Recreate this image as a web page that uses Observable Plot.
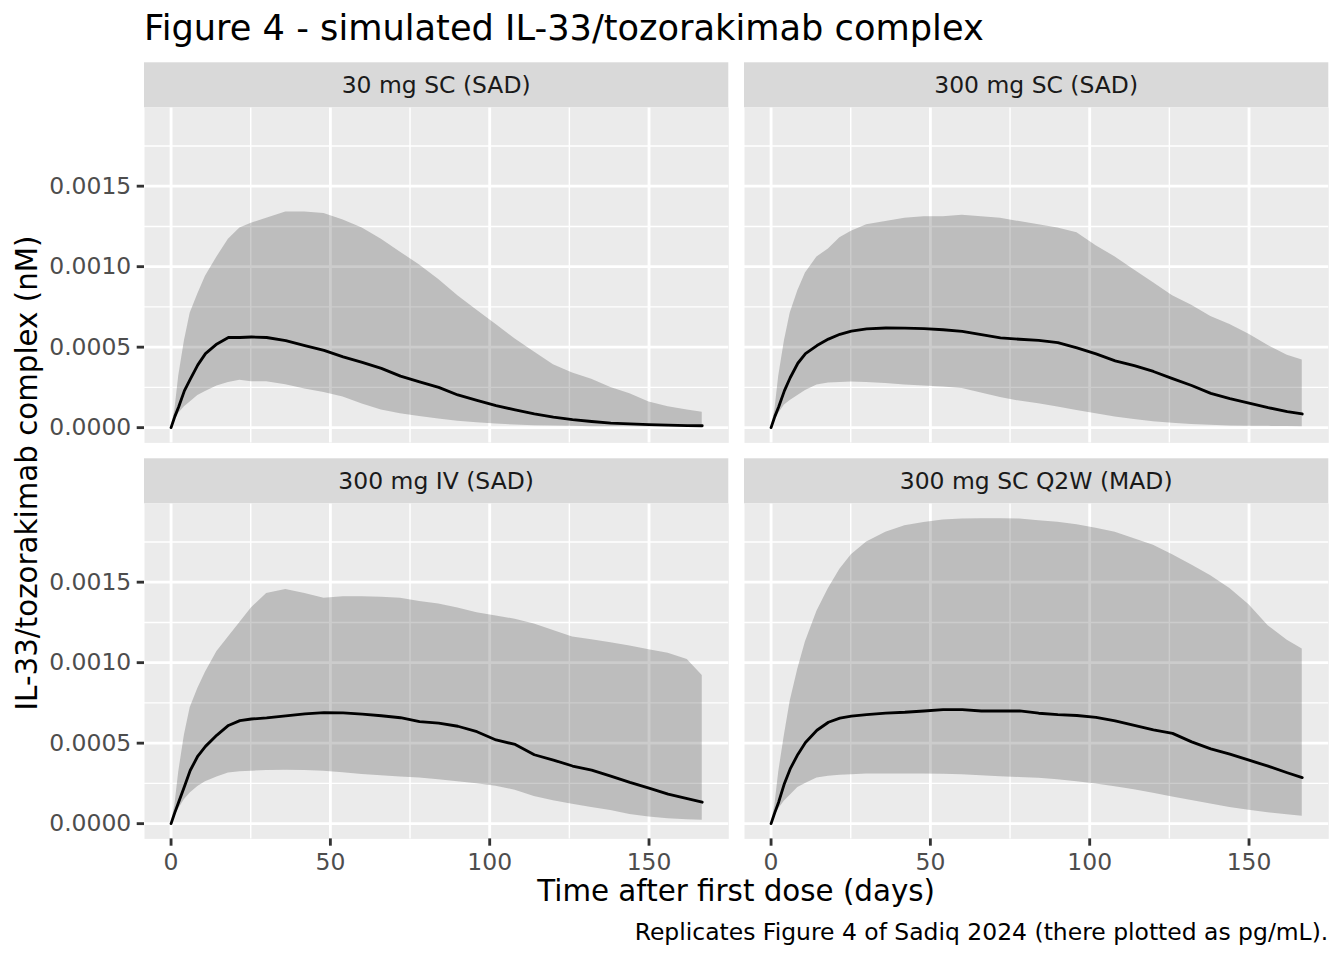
<!DOCTYPE html>
<html>
<head>
<meta charset="utf-8">
<script src="https://cdn.jsdelivr.net/npm/d3@7"></script>
<script src="https://cdn.jsdelivr.net/npm/@observablehq/plot@0.6"></script>
<style>
  html, body { margin: 0; padding: 0; background: white; }
  #root { position: relative; width: 1344px; height: 960px; overflow: hidden; font-family: "DejaVu Sans", sans-serif; }
  #root svg { position: absolute; max-width: none; overflow: visible; }
</style>
</head>
<body>
<div id="root"></div>
<script>
// ---------------- data ----------------
const panels = ["30 mg SC (SAD)", "300 mg SC (SAD)", "300 mg IV (SAD)", "300 mg SC Q2W (MAD)"];

const times = [0, 1.2, 2.4, 4.2, 6, 8.4, 10.8, 14.4, 18, 21.6, 25.2, 30, 36, 42, 48, 54, 60, 66, 72, 78,
               84, 90, 96, 102, 108, 114, 120, 126, 132, 138, 144, 150, 156, 162, 166.7];

// 30 mg SC (SAD)
const sc30Lower  = [0, 0.00005, 0.000089, 0.00013, 0.00016, 0.0002, 0.000225, 0.000258, 0.00028, 0.000295, 0.000285, 0.000285, 0.000267, 0.00024, 0.000218, 0.00019, 0.000147, 0.00011, 0.000087, 0.00007,
                    0.000053, 0.00004, 0.00003, 0.000022, 0.000016, 0.000012, 0.00001, 0.000008, 0.000006, 0.000005, 0.000005, 0.000004, 0.000004, 0.000004, 0.000004];
const sc30Median = [0, 0.00007, 0.00013, 0.00023, 0.0003, 0.00039, 0.00046, 0.00052, 0.00056, 0.00056, 0.000563, 0.00056, 0.00054, 0.00051, 0.00048, 0.00044, 0.000405, 0.000368, 0.00032, 0.000285,
                    0.00025, 0.000203, 0.00017, 0.000137, 0.00011, 0.000085, 0.000065, 0.00005, 0.000038, 0.000028, 0.000023, 0.000019, 0.000016, 0.000013, 0.000012];
const sc30Upper  = [0, 0.00011, 0.00032, 0.00054, 0.00071, 0.00083, 0.00094, 0.00106, 0.00117, 0.00124, 0.00127, 0.0013, 0.00134, 0.00134, 0.00133, 0.00129, 0.00124, 0.00117, 0.00109, 0.00101,
                    0.00092, 0.00082, 0.00073, 0.00064, 0.00055, 0.00047, 0.00039, 0.00034, 0.0003, 0.00025, 0.00021, 0.00016, 0.00013, 0.00011, 0.000095];

// 300 mg SC (SAD)
const sc300Lower  = [0, 0.00005, 0.000089, 0.00014, 0.000168, 0.0002, 0.00023, 0.000265, 0.000277, 0.00028, 0.000283, 0.000281, 0.000275, 0.000265, 0.000258, 0.000253, 0.000243, 0.000215, 0.000187, 0.000165,
                     0.000148, 0.000128, 0.000107, 0.000086, 0.000066, 0.00005, 0.000036, 0.000027, 0.00002, 0.000015, 0.000011, 0.000009, 0.000008, 0.000007, 0.000006];
const sc300Median = [0, 0.00007, 0.00013, 0.00023, 0.00031, 0.0004, 0.00046, 0.00051, 0.00055, 0.00058, 0.0006, 0.000614, 0.000619, 0.000618, 0.000615, 0.000608, 0.000598, 0.000578, 0.000558, 0.000549,
                     0.000542, 0.000528, 0.000495, 0.000458, 0.000415, 0.000385, 0.000349, 0.000305, 0.000262, 0.000213, 0.00018, 0.000152, 0.000124, 0.0001, 0.000085];
const sc300Upper  = [0, 0.00011, 0.00032, 0.00054, 0.00071, 0.00085, 0.00096, 0.00106, 0.00111, 0.00118, 0.00122, 0.00126, 0.00128, 0.0013, 0.00131, 0.00131, 0.00132, 0.00131, 0.0013, 0.00128,
                     0.00126, 0.00124, 0.00121, 0.00113, 0.00106, 0.00098, 0.0009, 0.00082, 0.00076, 0.00069, 0.00064, 0.00058, 0.00051, 0.00045, 0.00042];

// 300 mg IV (SAD)
const iv300Lower  = [0, 0.00005, 0.000093, 0.00015, 0.00019, 0.00023, 0.00026, 0.00029, 0.000315, 0.000322, 0.000326, 0.00033, 0.000332, 0.00033, 0.000325, 0.000316, 0.000305, 0.000297, 0.00029, 0.000283,
                     0.000272, 0.00026, 0.000248, 0.000232, 0.000208, 0.000168, 0.000142, 0.00012, 0.0001, 0.000082, 0.000057, 0.000042, 0.000031, 0.000024, 0.000021];
const iv300Median = [0, 0.00007, 0.000135, 0.00023, 0.00033, 0.00042, 0.00048, 0.00055, 0.00061, 0.00064, 0.00065, 0.000657, 0.00067, 0.000682, 0.00069, 0.000688, 0.00068, 0.00067, 0.000658, 0.000634,
                     0.000624, 0.000605, 0.000571, 0.00052, 0.000492, 0.000428, 0.000395, 0.000358, 0.000332, 0.000295, 0.000256, 0.00022, 0.000183, 0.000156, 0.000133];
const iv300Upper  = [0, 0.000114, 0.00032, 0.00055, 0.00072, 0.00084, 0.00094, 0.00107, 0.00116, 0.00125, 0.00134, 0.00143, 0.001455, 0.00143, 0.0014, 0.00141, 0.00141, 0.001406, 0.0014, 0.00138,
                     0.001365, 0.00134, 0.00131, 0.00129, 0.00127, 0.00124, 0.0012, 0.00116, 0.001143, 0.001124, 0.001103, 0.00108, 0.001058, 0.00102, 0.00092];

// 300 mg SC Q2W (MAD)
const madLower  = [0, 0.00005, 0.000093, 0.00014, 0.000176, 0.000225, 0.00025, 0.000284, 0.000295, 0.000301, 0.000304, 0.000308, 0.000309, 0.000309, 0.000309, 0.000307, 0.000303, 0.000298, 0.000292, 0.000287,
                   0.000282, 0.000272, 0.00026, 0.000246, 0.000229, 0.00021, 0.000189, 0.000166, 0.000144, 0.000122, 0.000101, 0.000083, 0.000068, 0.000055, 0.000046];
const madMedian = [0, 0.00007, 0.000135, 0.00025, 0.00034, 0.00043, 0.000504, 0.00058, 0.00063, 0.000655, 0.000668, 0.000677, 0.000687, 0.000692, 0.0007, 0.000708, 0.000708, 0.0007, 0.0007, 0.0007,
                   0.000686, 0.000677, 0.000672, 0.00066, 0.000638, 0.000611, 0.000583, 0.000561, 0.000508, 0.000465, 0.000432, 0.000394, 0.000357, 0.000316, 0.000286];
const madUpper  = [0, 0.000114, 0.00032, 0.00055, 0.00076, 0.00096, 0.00113, 0.00132, 0.00146, 0.00158, 0.00167, 0.00175, 0.00181, 0.00185, 0.00187, 0.001886, 0.001892, 0.001894, 0.001894, 0.001892,
                   0.001882, 0.001872, 0.001857, 0.001835, 0.00181, 0.00177, 0.00173, 0.00167, 0.001607, 0.00154, 0.00146, 0.00136, 0.00123, 0.00114, 0.001085];

const xTicks = [0, 50, 100, 150];
const xMinor = [25, 75, 125];
const yTicks = [0, 0.0005, 0.001, 0.0015];
const yMinor = [0.00025, 0.00075, 0.00125, 0.00175];

const titleText = "Figure 4 - simulated IL-33/tozorakimab complex";
const xTitle = "Time after first dose (days)";
const yTitle = "IL-33/tozorakimab complex (nM)";
const captionText = "Replicates Figure 4 of Sadiq 2024 (there plotted as pg/mL).";

// ---------------- build ----------------
const series = [
  {lower: sc30Lower, median: sc30Median, upper: sc30Upper},
  {lower: sc300Lower, median: sc300Median, upper: sc300Upper},
  {lower: iv300Lower, median: iv300Median, upper: iv300Upper},
  {lower: madLower, median: madMedian, upper: madUpper}
];

// ggplot-like 5% expansion, shared (fixed) scales
const xMax = d3.max(times), xMin = d3.min(times);
const xPad = 0.05 * (xMax - xMin);
const xDomain = [xMin - xPad, xMax + xPad];
const yMaxAll = d3.max(series.flatMap(s => s.upper));
const yMinAll = 0;
const yPad = 0.05 * (yMaxAll - yMinAll);
const yDomain = [yMinAll - yPad, yMaxAll + yPad];

const PT = 192 / 72;
const fsTick = 8.8 * PT, fsAxis = 11 * PT, fsTitle = 13.2 * PT;
const lwMajor = 2.84, lwMinor = 1.42;

const colLeft = [144, 744];
const rowTop = [107.3, 503.3];
const stripTop = [62.3, 458.3];
const PW = 584.3, PH = 335.4;

const root = document.getElementById("root");

series.forEach((s, i) => {
  const col = i % 2, row = Math.floor(i / 2);
  const showY = col === 0, showX = row === 1;
  const data = times.map((t, j) => ({t, lo: s.lower[j], med: s.median[j], hi: s.upper[j]}));
  const ml = showY ? 144 : 0;
  const mb = showX ? 60 : 0;
  const marks = [
    Plot.frame({fill: "#EBEBEB", stroke: "none"}),
    Plot.ruleX(xMinor, {stroke: "white", strokeWidth: lwMinor}),
    Plot.ruleY(yMinor, {stroke: "white", strokeWidth: lwMinor}),
    Plot.ruleX(xTicks, {stroke: "white", strokeWidth: lwMajor}),
    Plot.ruleY(yTicks, {stroke: "white", strokeWidth: lwMajor}),
    Plot.areaY(data, {x: "t", y1: "lo", y2: "hi", fill: "#333333", fillOpacity: 0.25}),
    Plot.line(data, {x: "t", y: "med", stroke: "black", strokeWidth: lwMajor})
  ];
  if (showY) marks.push(Plot.axisY({ticks: yTicks, tickFormat: d3.format(".4f"), tickSize: 7.3, tickPadding: 5.9,
    stroke: "#333333", strokeWidth: lwMajor, fill: "#4D4D4D", fontSize: fsTick, label: null}));
  if (showX) marks.push(Plot.axisX({ticks: xTicks, tickFormat: d3.format("d"), tickSize: 7.3, tickPadding: 7,
    stroke: "#333333", strokeWidth: lwMajor, fill: "#4D4D4D", fontSize: fsTick, label: null}));
  const svg = Plot.plot({
    width: ml + PW,
    height: PH + mb,
    marginLeft: ml, marginRight: 0, marginTop: 0, marginBottom: mb,
    x: {domain: xDomain, ...(showX ? {} : {axis: null})},
    y: {domain: yDomain, ...(showY ? {} : {axis: null})},
    style: {background: "transparent", fontFamily: "DejaVu Sans", fontSize: fsTick + "px", overflow: "visible"},
    marks
  });
  svg.style.left = (colLeft[col] - ml) + "px";
  svg.style.top = rowTop[row] + "px";
  root.appendChild(svg);
});

// overlay: strips, titles, caption
const ns = "http://www.w3.org/2000/svg";
const ov = document.createElementNS(ns, "svg");
ov.setAttribute("width", 1344);
ov.setAttribute("height", 960);
ov.style.left = "0px"; ov.style.top = "0px";
ov.style.fontFamily = "DejaVu Sans";
function add(tag, attrs, text) {
  const el = document.createElementNS(ns, tag);
  for (const k in attrs) el.setAttribute(k, attrs[k]);
  if (text != null) el.textContent = text;
  ov.appendChild(el);
  return el;
}
panels.forEach((name, i) => {
  const col = i % 2, row = Math.floor(i / 2);
  add("rect", {x: colLeft[col], y: stripTop[row], width: PW, height: rowTop[row] - stripTop[row], fill: "#D9D9D9"});
  add("text", {x: colLeft[col] + PW / 2, y: (stripTop[row] + rowTop[row]) / 2 + 8.6, "text-anchor": "middle",
    "font-size": fsTick, fill: "#1A1A1A"}, name);
});
add("text", {x: 144, y: 39.5, "font-size": fsTitle, fill: "black"}, titleText);
add("text", {x: (colLeft[0] + colLeft[1] + PW) / 2, y: 901, "text-anchor": "middle", "font-size": fsAxis, fill: "black"}, xTitle);
add("text", {transform: `translate(37,${(rowTop[0] + rowTop[1] + PH) / 2}) rotate(-90)`, "text-anchor": "middle", "font-size": fsAxis, fill: "black"}, yTitle);
add("text", {x: colLeft[1] + PW, y: 939.5, "text-anchor": "end", "font-size": fsTick, fill: "black"}, captionText);
root.appendChild(ov);
</script>
</body>
</html>
